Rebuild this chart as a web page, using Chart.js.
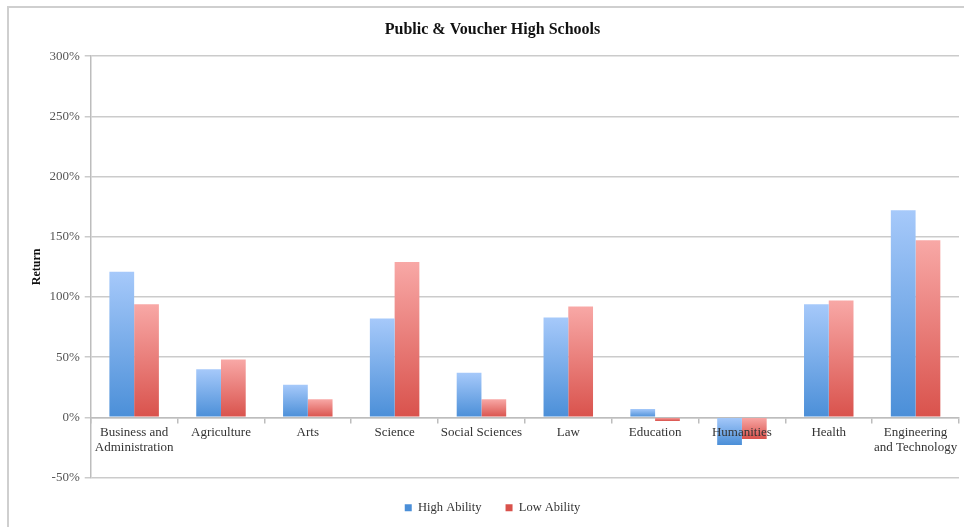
<!DOCTYPE html>
<html lang="en">
<head>
    <meta charset="UTF-8">
    <title>Public & Voucher High Schools</title>
    <style>
        body {
            margin: 0;
            padding: 0;
            background: #fff;
            font-family: "Liberation Serif", serif;
        }
        #frame {
            position: absolute;
            left: 7px;
            top: 6px;
            width: 980px;
            height: 560px;
            border: 2px solid #cfcfcf;
        }
        #wrap {
            position: absolute;
            left: 0;
            top: 0;
            width: 964px;
            height: 527px;
        }
    </style>
    <script src="https://cdn.jsdelivr.net/npm/chart.js"></script>
</head>
<body>
    <div id="frame"></div>
    <div id="wrap">
        <canvas id="schoolsChart"></canvas>
    </div>
    <script>
        // values, in percent
        var categories = [
            ['Business and', 'Administration'],
            'Agriculture',
            'Arts',
            'Science',
            'Social Sciences',
            'Law',
            'Education',
            'Humanities',
            'Health',
            ['Engineering', 'and Technology']
        ];
        var highAbility = [121, 40, 27, 82, 37, 83, 7, -23, 94, 172];
        var lowAbility = [94, 48, 15, 129, 15, 92, -3, -18, 97, 147];
        var yTicks = [-50, 0, 50, 100, 150, 200, 250, 300];

        function barGradient(topColor, bottomColor, flatColor) {
            return function (context) {
                var chart = context.chart;
                var yScale = chart.scales.y;
                if (context.type !== 'data' || !yScale || !context.parsed) {
                    return flatColor;
                }
                var yVal = yScale.getPixelForValue(context.parsed.y);
                var yZero = yScale.getPixelForValue(0);
                if (!isFinite(yVal) || !isFinite(yZero)) {
                    return flatColor;
                }
                var top = Math.min(yVal, yZero);
                var bottom = Math.max(yVal, yZero);
                if (bottom - top < 1) {
                    return bottomColor;
                }
                var g = chart.ctx.createLinearGradient(0, top, 0, bottom);
                g.addColorStop(0, topColor);
                g.addColorStop(1, bottomColor);
                return g;
            };
        }

        document.addEventListener('DOMContentLoaded', function () {
            var ctx = document.getElementById('schoolsChart').getContext('2d');
            new Chart(ctx, {
                type: 'bar',
                data: {
                    labels: categories,
                    datasets: [{
                        label: 'High Ability',
                        data: highAbility,
                        backgroundColor: barGradient('#a6c9fa', '#4b8fd8', '#6a9fe0'),
                        borderWidth: 0
                    }, {
                        label: 'Low Ability',
                        data: lowAbility,
                        backgroundColor: barGradient('#f8a8a6', '#d9524c', '#e46661'),
                        borderWidth: 0
                    }]
                },
                options: {
                    responsive: true,
                    maintainAspectRatio: false,
                    animation: false,
                    layout: {
                        padding: { left: 26, right: 5, top: 10, bottom: 3 }
                    },
                    datasets: {
                        bar: {
                            barPercentage: 1.0,
                            categoryPercentage: 0.57
                        }
                    },
                    plugins: {
                        title: {
                            display: true,
                            text: 'Public & Voucher High Schools',
                            color: '#111',
                            font: { family: '"Liberation Serif", serif', size: 16, weight: 'bold' },
                            padding: { top: 10, bottom: 17 }
                        },
                        legend: {
                            position: 'bottom',
                            labels: {
                                boxWidth: 7,
                                boxHeight: 7,
                                padding: 24,
                                color: '#333',
                                font: { family: '"Liberation Serif", serif', size: 12.5 }
                            }
                        },
                        tooltip: { enabled: false }
                    },
                    scales: {
                        x: {
                            position: { y: 0 },
                            grid: {
                                display: true,
                                drawOnChartArea: false,
                                offset: true,
                                tickLength: 5,
                                color: '#bdbdbd',
                                lineWidth: 1.5
                            },
                            border: { display: true, color: '#bdbdbd', width: 1.5 },
                            ticks: {
                                z: 1,
                                color: '#333',
                                maxRotation: 0,
                                autoSkip: false,
                                padding: 2,
                                font: { family: '"Liberation Serif", serif', size: 13 }
                            }
                        },
                        y: {
                            min: -50,
                            max: 300,
                            afterBuildTicks: function (axis) {
                                axis.ticks = yTicks.map(function (v) { return { value: v }; });
                            },
                            title: {
                                display: true,
                                text: 'Return',
                                color: '#111',
                                font: { family: '"Liberation Serif", serif', size: 12, weight: 'bold' },
                                padding: { top: 4, bottom: 0 }
                            },
                            grid: {
                                color: '#cbcbcb',
                                lineWidth: 1.5,
                                tickLength: 6
                            },
                            border: { display: true, color: '#bdbdbd', width: 1.5 },
                            ticks: {
                                color: '#555',
                                padding: 5,
                                font: { family: '"Liberation Serif", serif', size: 13 },
                                callback: function (value) { return value + '%'; }
                            }
                        }
                    }
                }
            });
        });
    </script>
</body>
</html>
